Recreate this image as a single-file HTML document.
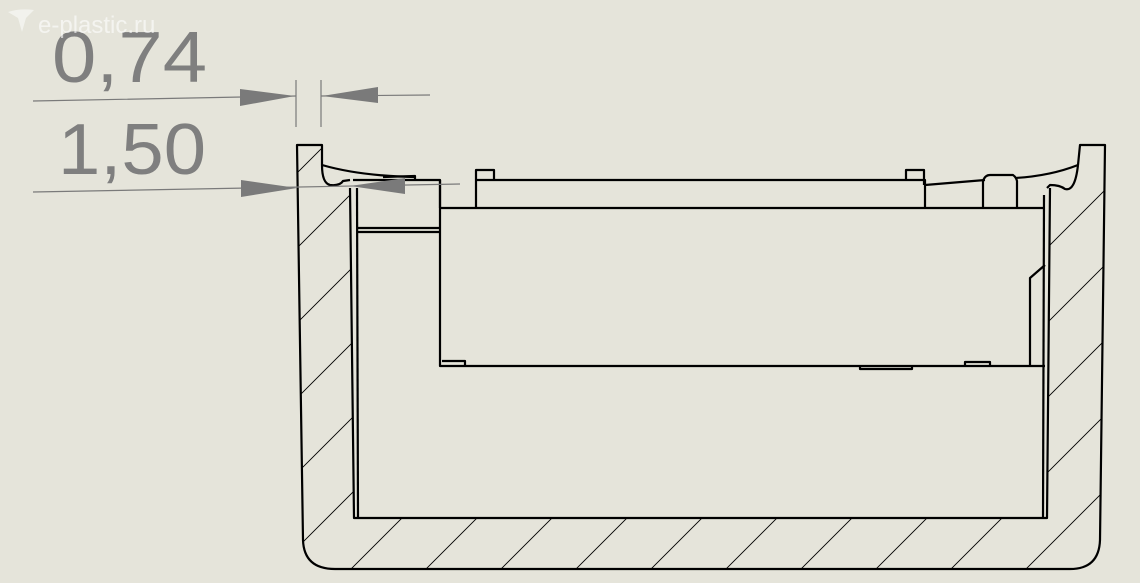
<!DOCTYPE html>
<html><head><meta charset="utf-8"><style>
html,body{margin:0;padding:0;background:#e5e4da;}
svg{display:block}
</style></head><body>
<svg width="1140" height="583" viewBox="0 0 1140 583" xmlns="http://www.w3.org/2000/svg">
<defs>
<pattern id="h" patternUnits="userSpaceOnUse" width="75" height="75" x="0" y="20">
<path d="M0,75 L75,0 M-10,10 L10,-10 M65,85 L85,65" stroke="#000" stroke-width="0.9"/>
</pattern>
</defs>
<rect width="1140" height="583" fill="#e5e4da"/>
<!-- shell -->
<path fill="url(#h)" fill-rule="evenodd" stroke="none" d="M297,145 L322,145 L322,165 Q324,182 335,182 Q345,182 350,188 L354,518 L1047,518 L1050,186 Q1060,184 1068,187 Q1078,187 1078,165 L1080,145 L1105,145 L1100,540 Q1099,569 1070,569 L335,569 Q304,569 303,540 Z"/>
<g fill="none" stroke="#000" stroke-width="2.2" stroke-linejoin="round">
<!-- outer -->
<path d="M322,165 L322,145 L297,145 L303,540 Q304,569 335,569 L1070,569 Q1099,569 1100,540 L1105,145 L1080,145 L1078,165"/>
<!-- top curves -->
<path d="M322,165 Q360,176 415,177"/>
<path d="M1078,165 Q1050,176 1015,178 M985,180 L925,185"/>
<!-- left lip dip -->
<path d="M322,165 Q322,183 330,185 Q340,186 343,181 L350,180"/>
<!-- right lip dip -->
<path d="M1078,165 Q1075,192 1065,189 Q1060,185 1050,185 L1047,188"/>
<!-- inner walls -->
<path d="M350,188 L354,518 L1047,518 L1050,188"/>
<path d="M357,188 L358,518"/>
<path d="M1044,195 L1043,518"/>
<!-- left block -->
<path d="M353,180 L440,180 L440,208 M357,228 L440,228 M357,232 L440,232"/>
<!-- panel -->
<path d="M440,180 L440,366 L1045,366 M440,208 L1045,208"/>
<path d="M442,361 L465,361 L465,366"/>
<path d="M860,366 L860,369 L912,369 L912,366 M965,366 L965,362 L990,362 L990,366"/>
<path d="M1030,366 L1030,278 L1045,265"/>
<!-- top rect -->
<path d="M476,208 L476,180 L925,180 L925,208"/>
<path d="M476,180 L476,170 L494,170 L494,180"/>
<path d="M906,180 L906,170 L924,170 L924,185"/>
<path d="M983,208 L983,181 Q985,175 990,175 L1013,175 Q1016,177 1017,181 L1017,208"/>
<path d="M383,177 L415,176 L415,180"/>
</g>
<!-- dimensions -->
<g stroke="#7a7a7a" stroke-width="1.2" fill="none">
<path d="M33,101 L296,96 M321,96 L430,95"/>
<path d="M296,80 L296,127 M321,80 L321,127"/>
<path d="M33,192 L460,184"/>
</g>
<g fill="#7a7a7a">
<polygon points="240,89 295,96 240,106"/>
<polygon points="378,87 322,96 378,103"/>
<polygon points="241,180 297,188 241,197"/>
<polygon points="405,178 350,186 405,194"/>
</g>
<g font-family="Liberation Sans, sans-serif" fill="#7f7f7f" font-size="72">
<text x="52" y="82" textLength="155" lengthAdjust="spacingAndGlyphs">0,74</text>
<text x="58" y="174" textLength="148" lengthAdjust="spacingAndGlyphs">1,50</text>
</g>
<text x="38" y="33" font-family="Liberation Sans, sans-serif" font-size="24" fill="#ffffff" opacity="0.6">e-plastic.ru</text>
<path d="M8,12 Q20,8 34,10 L26,18 L22,32 L18,18 Z" fill="#ffffff" opacity="0.5"/>
</svg>
</body></html>
